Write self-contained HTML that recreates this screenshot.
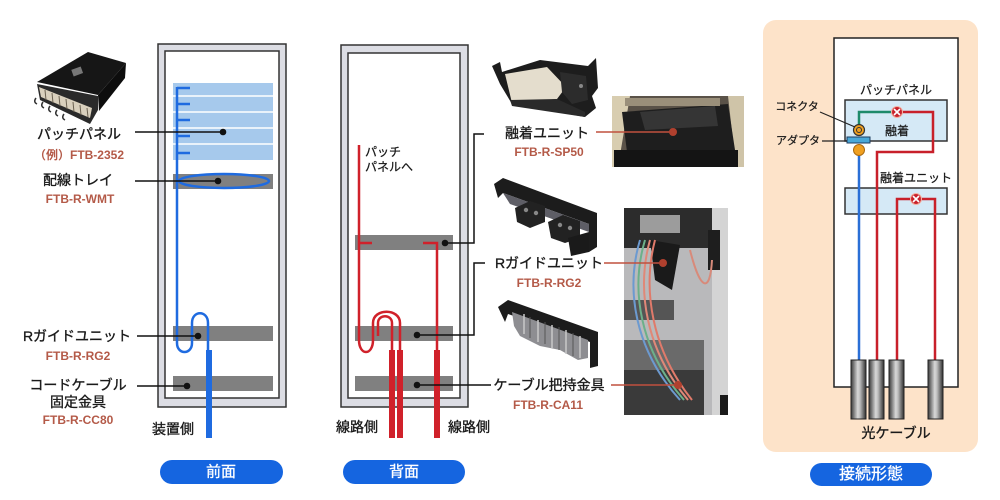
<!DOCTYPE html>
<html><head><meta charset="utf-8"><style>
html,body{margin:0;padding:0;background:#fff;}
svg{display:block;}
text{font-family:"Liberation Sans","Noto Sans CJK JP",sans-serif;}
.lb{font-size:14px;fill:#1a1a1a;stroke:#1a1a1a;stroke-width:0.35;}
.md{font-size:12px;font-weight:bold;fill:#b45a48;}
.sm{font-size:12px;fill:#1a1a1a;stroke:#1a1a1a;stroke-width:0.25;}
.xs{font-size:11px;fill:#1a1a1a;stroke:#1a1a1a;stroke-width:0.25;}
.bt{font-size:15px;fill:#fff;stroke:#fff;stroke-width:0.3;}
</style></head><body>
<svg width="1000" height="500" viewBox="0 0 1000 500" xmlns="http://www.w3.org/2000/svg">
<defs>
<linearGradient id="cab" x1="0" x2="1" y1="0" y2="0">
<stop offset="0" stop-color="#3a3a3a"/><stop offset="0.45" stop-color="#d8d8d8"/><stop offset="0.6" stop-color="#bdbdbd"/><stop offset="1" stop-color="#2e2e2e"/>
</linearGradient>
</defs>
<rect width="1000" height="500" fill="#fff"/>

<!-- ===== Patch panel photo (top-left) ===== -->
<g>
<polygon points="37,84 40,100 90,124 98,110 98,96" fill="#2a2a2a"/>
<polygon points="39,87 41,97 90,118 92,108" fill="#d9d0bd"/>
<g stroke="#6a6050" stroke-width="1">
<line x1="45" y1="90" x2="46" y2="100"/><line x1="52" y1="93" x2="53" y2="103"/><line x1="59" y1="96" x2="60" y2="106"/><line x1="66" y1="99" x2="67" y2="109"/><line x1="73" y1="102" x2="74" y2="112"/><line x1="80" y1="105" x2="81" y2="115"/><line x1="87" y1="108" x2="88" y2="117"/>
</g>
<polygon points="37,82 88,52 126,63 98,95" fill="#161616"/>
<polygon points="98,95 126,63 125,78 99,111" fill="#0d0d0d"/>
<rect x="72" y="68" width="10" height="7" fill="#777" transform="rotate(-20 77 71)"/>
<g fill="none" stroke="#333" stroke-width="1.5">
<path d="M36,98 q-3,4 1,6"/><path d="M43,102 q-3,4 1,6"/><path d="M50,106 q-3,4 1,6"/><path d="M57,110 q-3,4 1,6"/><path d="M64,114 q-3,4 1,6"/>
</g>
</g>

<!-- ===== Front rack ===== -->
<rect x="158" y="44" width="128" height="363" fill="#dcdde4" stroke="#333" stroke-width="1.5"/>
<rect x="165" y="51" width="114" height="347" fill="#fff" stroke="#333" stroke-width="1.5"/>
<rect x="173" y="83" width="100" height="77" fill="#a6c9ec"/>
<g stroke="#fff" stroke-width="1.5">
<line x1="173" y1="96" x2="273" y2="96"/><line x1="173" y1="112" x2="273" y2="112"/><line x1="173" y1="128" x2="273" y2="128"/><line x1="173" y1="144" x2="273" y2="144"/>
</g>
<rect x="173" y="174" width="100" height="15" fill="#808080"/>
<rect x="173" y="326" width="100" height="15" fill="#808080"/>
<rect x="173" y="376" width="100" height="15" fill="#808080"/>
<g stroke="#1f6be0" stroke-width="2.5" fill="none">
<line x1="177" y1="87" x2="177" y2="300"/>
<line x1="177" y1="88" x2="190" y2="88"/><line x1="177" y1="104" x2="190" y2="104"/><line x1="177" y1="120" x2="190" y2="120"/><line x1="177" y1="136" x2="190" y2="136"/><line x1="177" y1="153" x2="190" y2="153"/>
<ellipse cx="224" cy="181" rx="45" ry="7"/>
<path d="M177,300 V343 C177,355 192,355 192,343 V323 C192,310 208,310 208,323 V352"/>
</g>
<rect x="206" y="350" width="6" height="88" fill="#1f6be0"/>
<g stroke="#111" stroke-width="1.5">
<line x1="135" y1="132" x2="223" y2="132"/><line x1="135" y1="181" x2="218" y2="181"/>
<line x1="137" y1="336" x2="198" y2="336"/><line x1="137" y1="386" x2="187" y2="386"/>
</g>
<g fill="#111"><circle cx="223" cy="132" r="3.3"/><circle cx="218" cy="181" r="3.3"/><circle cx="198" cy="336" r="3.3"/><circle cx="187" cy="386" r="3.3"/></g>

<g text-anchor="middle" dominant-baseline="central">
<text class="lb" x="79" y="134">パッチパネル</text>
<text class="md" x="79" y="155">（例）FTB-2352</text>
<text class="lb" x="78" y="180">配線トレイ</text>
<text class="md" x="80" y="199">FTB-R-WMT</text>
<text class="lb" x="77" y="336">Rガイドユニット</text>
<text class="md" x="78" y="356">FTB-R-RG2</text>
<text class="lb" x="78" y="385">コードケーブル</text>
<text class="lb" x="78" y="402">固定金具</text>
<text class="md" x="78" y="420">FTB-R-CC80</text>
<text class="lb" x="173" y="429">装置側</text>
</g>
<rect x="160" y="460" width="123" height="24" rx="12" fill="#1565e0"/>
<text class="bt" x="221" y="472" text-anchor="middle" dominant-baseline="central">前面</text>

<!-- ===== Back rack ===== -->
<rect x="341" y="45" width="127" height="362" fill="#dcdde4" stroke="#333" stroke-width="1.5"/>
<rect x="348" y="53" width="112" height="345" fill="#fff" stroke="#333" stroke-width="1.5"/>
<rect x="355" y="235" width="98" height="15" fill="#808080"/>
<rect x="355" y="326" width="98" height="15" fill="#808080"/>
<rect x="355" y="376" width="98" height="15" fill="#808080"/>
<g stroke="#d0212a" stroke-width="2.5" fill="none">
<line x1="359" y1="145" x2="359" y2="340"/>
<line x1="359" y1="243" x2="372" y2="243"/>
<path d="M423,243 H437 V352"/>
<path d="M359,340 C359,356 373,356 373,340 V323 C373,308 400,308 400,323 V352"/>
<path d="M378,336 V323 C378,314 392,314 392,323 V352"/>
</g>
<rect x="389" y="350" width="6" height="88" fill="#d0212a"/>
<rect x="397" y="350" width="6" height="88" fill="#d0212a"/>
<rect x="434" y="350" width="6" height="88" fill="#d0212a"/>
<g stroke="#111" stroke-width="1.5" fill="none">
<path d="M445,243 H474 V134 H484"/>
<path d="M417,335 H474 V263 H485"/>
<path d="M417,385 H491"/>
</g>
<g fill="#111"><circle cx="445" cy="243" r="3.3"/><circle cx="417" cy="335" r="3.3"/><circle cx="417" cy="385" r="3.3"/></g>
<text class="sm" x="365" y="152" dominant-baseline="central">パッチ</text>
<text class="sm" x="365" y="167" dominant-baseline="central">パネルへ</text>
<g text-anchor="middle" dominant-baseline="central">
<text class="lb" x="547" y="133">融着ユニット</text>
<text class="md" x="549" y="152">FTB-R-SP50</text>
<text class="lb" x="549" y="263">Rガイドユニット</text>
<text class="md" x="549" y="283">FTB-R-RG2</text>
<text class="lb" x="549" y="385">ケーブル把持金具</text>
<text class="md" x="548" y="405">FTB-R-CA11</text>
<text class="lb" x="357" y="427">線路側</text>
<text class="lb" x="469" y="427">線路側</text>
</g>
<rect x="343" y="460" width="122" height="24" rx="12" fill="#1565e0"/>
<text class="bt" x="404" y="472" text-anchor="middle" dominant-baseline="central">背面</text>

<!-- ===== product photos (middle) ===== -->
<!-- splice unit -->
<g>
<polygon points="492,66 500,62 502,72 540,60 588,66 596,58 598,88 592,96 596,108 585,117 512,104 500,84" fill="#1d1d1d"/>
<polygon points="505,74 547,67 566,87 557,99 512,103" fill="#e4ddcd"/>
<polygon points="560,72 586,76 588,100 572,104 562,92" fill="#2c2c2c"/>
<circle cx="581" cy="86" r="2" fill="#888"/>
<polygon points="510,100 557,99 585,112 585,117 512,106" fill="#2a2a2a"/>
</g>
<!-- R guide unit -->
<g>
<polygon points="494,184 503,178 597,213 597,247 589,252 589,224 503,193 498,198" fill="#1c1c1c"/>
<polygon points="503,193 589,224 589,232 510,204" fill="#5e5e66"/>
<polygon points="515,208 530,201 545,206 545,222 530,228 517,222" fill="#222"/>
<circle cx="526" cy="210" r="2.2" fill="#888"/><circle cx="536" cy="213" r="2.2" fill="#888"/>
<polygon points="548,222 563,215 580,221 580,238 565,243 551,238" fill="#222"/>
<circle cx="560" cy="225" r="2.2" fill="#888"/><circle cx="570" cy="228" r="2.2" fill="#888"/>
<polygon points="568,238 589,232 589,252 571,256" fill="#1a1a1a"/>
</g>
<!-- cable holding bracket -->
<g>
<polygon points="498,307 508,300 598,332 598,366 590,368 590,342 508,314 505,322" fill="#1c1c1c"/>
<polygon points="512,312 588,340 588,358 578,360 560,350 540,346 520,336 514,326" fill="#8e8e92"/>
<g stroke="#c9c9c9" stroke-width="1.5"><line x1="524" y1="314" x2="524" y2="334"/><line x1="538" y1="320" x2="538" y2="342"/><line x1="552" y1="325" x2="552" y2="348"/><line x1="566" y1="330" x2="566" y2="354"/><line x1="580" y1="336" x2="580" y2="358"/></g>
<g stroke="#555" stroke-width="1"><line x1="530" y1="317" x2="530" y2="338"/><line x1="545" y1="322" x2="545" y2="344"/><line x1="559" y1="327" x2="559" y2="350"/><line x1="573" y1="333" x2="573" y2="356"/></g>
</g>

<!-- photo 1 -->
<g>
<rect x="612" y="96" width="132" height="71" fill="#5a5248"/>
<polygon points="612,96 630,96 618,167 612,167" fill="#d8cdb0"/>
<polygon points="728,96 744,96 744,167 736,167" fill="#cfc4a8"/>
<polygon points="622,112 728,104 735,150 628,160" fill="#1e1e1e"/>
<polygon points="640,112 715,106 718,126 645,130" fill="#353535"/>
<rect x="614" y="150" width="124" height="17" fill="#141414"/>
<rect x="625" y="98" width="95" height="8" fill="#9a8f7a"/>
</g>
<!-- photo 2 -->
<g>
<rect x="624" y="208" width="104" height="207" fill="#b9b9bb"/>
<rect x="624" y="208" width="104" height="40" fill="#2c2c2c"/>
<rect x="640" y="215" width="40" height="18" fill="#9c9c9c"/>
<rect x="712" y="208" width="16" height="207" fill="#d4d4d4"/>
<rect x="708" y="230" width="12" height="40" fill="#1e1e1e"/>
<rect x="624" y="300" width="50" height="20" fill="#555"/>
<rect x="624" y="340" width="80" height="30" fill="#6a6a6a"/>
<rect x="624" y="370" width="80" height="45" fill="#3a3a3a"/>
<polygon points="650,240 680,245 672,290 655,280" fill="#1a1a1a"/>
<g fill="none" stroke-width="2">
<path d="M640,240 C625,290 635,350 680,400" stroke="#6c9ad0"/>
<path d="M645,240 C630,290 640,350 684,400" stroke="#6cb08a"/>
<path d="M650,240 C636,290 646,350 688,400" stroke="#e08878"/>
<path d="M655,240 C642,290 652,350 692,400" stroke="#e07a6a"/>
<path d="M690,250 C700,290 710,295 712,260" stroke="#d88a7a"/>
</g>
<rect x="720" y="395" width="8" height="20" fill="#1a1a1a"/>
</g>
<g stroke="#c0503e" stroke-width="1.5">
<line x1="596" y1="132" x2="673" y2="132"/>
<line x1="604" y1="263" x2="663" y2="263"/>
<line x1="611" y1="385" x2="678" y2="385"/>
</g>
<g fill="#b0402e"><circle cx="673" cy="132" r="4"/><circle cx="663" cy="263" r="4"/><circle cx="678" cy="385" r="4"/></g>

<!-- ===== Connection diagram (right) ===== -->
<rect x="763" y="20" width="215" height="432" rx="13" fill="#fde3c9"/>
<rect x="834" y="38" width="124" height="349" fill="#fff" stroke="#222" stroke-width="1.5"/>
<rect x="845" y="100" width="102" height="41" fill="#d5e9f6" stroke="#333" stroke-width="1.5"/>
<rect x="845" y="188" width="102" height="26" fill="#d5e9f6" stroke="#333" stroke-width="1.5"/>
<g fill="none" stroke-width="2.5">
<path d="M859,128 V112 H893" stroke="#1e8a6a"/>
<path d="M901,112 H933 V152 H877 V362" stroke="#c8202a"/>
<path d="M897,362 V199 H935 V362" stroke="#c8202a"/>
<path d="M859,150 V362" stroke="#2a6fd6"/>
</g>
<g>
<circle cx="897" cy="112" r="5.5" fill="#c8202a" stroke="#f4b0a0" stroke-width="1"/>
<path d="M894,109 L900,115 M900,109 L894,115" stroke="#fff" stroke-width="1.6"/>
<circle cx="916" cy="199" r="5.5" fill="#c8202a" stroke="#f4b0a0" stroke-width="1"/>
<path d="M913,196 L919,202 M919,196 L913,202" stroke="#fff" stroke-width="1.6"/>
</g>
<circle cx="859" cy="130" r="5.5" fill="#f0a020" stroke="#333" stroke-width="1.2"/>
<circle cx="859" cy="130" r="2.5" fill="none" stroke="#333" stroke-width="1"/>
<rect x="847" y="137" width="23" height="6" fill="#4aa8d8" stroke="#1d3d60" stroke-width="1"/>
<circle cx="859" cy="150" r="5.5" fill="#f0a020" stroke="#aa6a10" stroke-width="1"/>
<g stroke="#222" stroke-width="1.2">
<line x1="820" y1="112" x2="855" y2="127"/>
<line x1="822" y1="141" x2="847" y2="141"/>
</g>
<rect x="851" y="360" width="15" height="59" fill="url(#cab)" stroke="#222" stroke-width="1"/>
<rect x="869" y="360" width="15" height="59" fill="url(#cab)" stroke="#222" stroke-width="1"/>
<rect x="889" y="360" width="15" height="59" fill="url(#cab)" stroke="#222" stroke-width="1"/>
<rect x="928" y="360" width="15" height="59" fill="url(#cab)" stroke="#222" stroke-width="1"/>
<g text-anchor="middle" dominant-baseline="central">
<text class="sm" x="896" y="90">パッチパネル</text>
<text class="sm" x="897" y="131">融着</text>
<text class="xs" x="797" y="107">コネクタ</text>
<text class="xs" x="798" y="141">アダプタ</text>
<text class="sm" x="916" y="178">融着ユニット</text>
<text class="lb" x="896" y="433">光ケーブル</text>
</g>
<rect x="810" y="463" width="122" height="23" rx="11.5" fill="#1565e0"/>
<text x="871" y="474.5" text-anchor="middle" dominant-baseline="central" style="font-size:16px;fill:#fff;stroke:#fff;stroke-width:0.3">接続形態</text>
</svg>
</body></html>
